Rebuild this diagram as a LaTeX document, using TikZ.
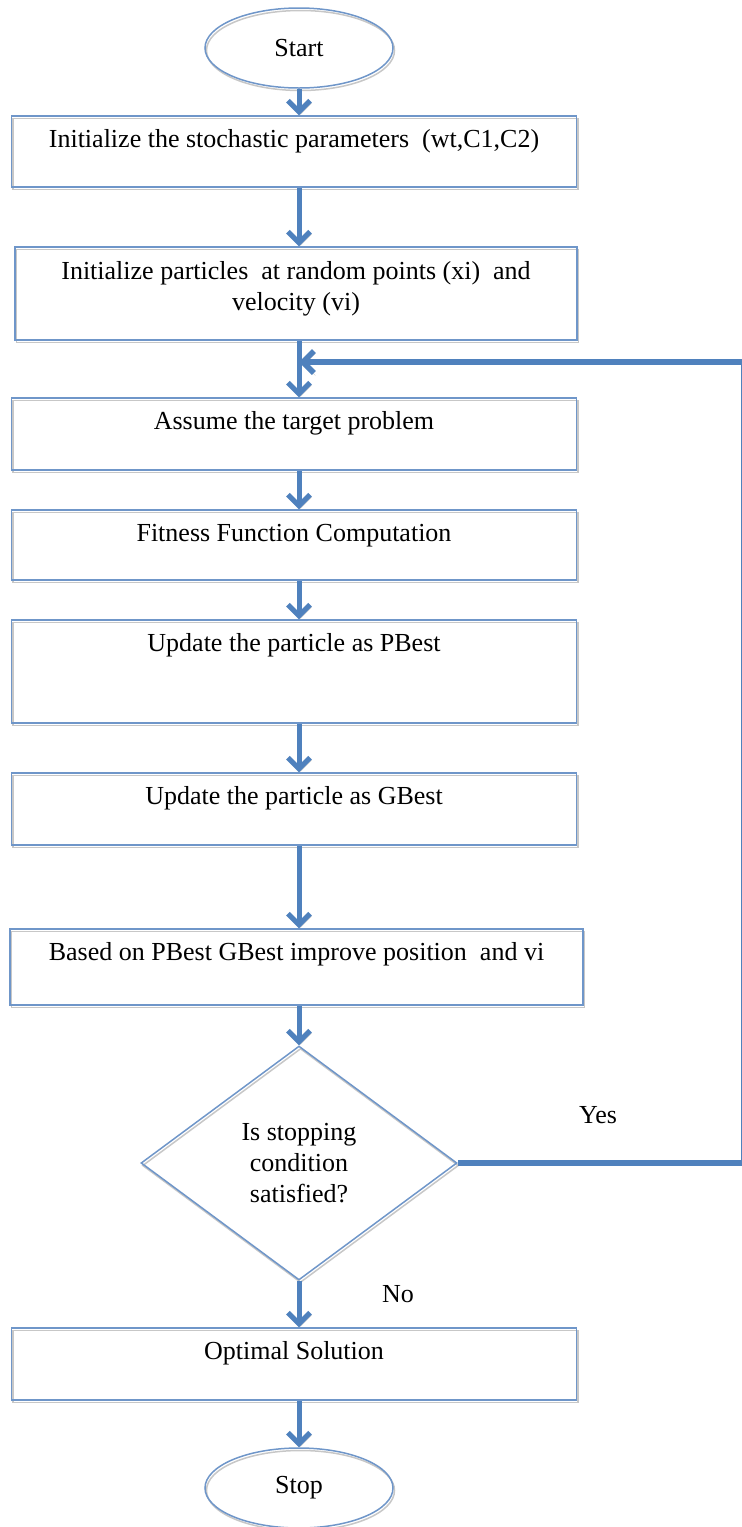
\documentclass[tikz,border=0pt]{standalone}
\usepackage{fontspec}
\setmainfont{Liberation Serif}
\usetikzlibrary{arrows.meta,shapes.geometric,positioning}

\definecolor{wordblue}{HTML}{4F81BD}
\definecolor{edgeblue}{HTML}{6F96C9}

\begin{document}
\begin{tikzpicture}[x=1pt,y=-1pt,font=\fontsize{26}{31}\selectfont,
    softshadow/.style={preaction={draw=black!22,transform canvas={shift={(1.5pt,-2.5pt)}}}},
    box/.style={rectangle,draw=edgeblue,line width=1.5pt,softshadow,minimum width=565pt,inner sep=0pt},
    txt/.style={anchor=base,yshift=-32pt,inner sep=0pt,align=center},
    term/.style={ellipse,draw=edgeblue,line width=1.5pt,softshadow,minimum width=188pt,minimum height=80pt,inner sep=0pt},
    flow/.style={draw=wordblue,line width=5pt,softshadow,-{Straight Barb[length=11pt,width=22pt]}}]
  \useasboundingbox (0,0) rectangle (742,1527);
  \coordinate (spine) at (299,0);
  \coordinate (rim) at (744,0);
  \coordinate (back) at (299,362);

  \node[term] (start) at (299,48) {Start};
  \node[box,minimum height=71pt] (init) at (294,151.5) {};
  \node[txt] (init-t) at (init.north) {Initialize the stochastic parameters\ \ (wt,C1,C2)};
  \node[box,minimum width=562pt,minimum height=93pt] (parts) at (296,293.5) {};
  \node[txt,yshift=-32pt] (parts-t) at (parts.north) {Initialize particles\ \ at random points (xi)\ \ and\\velocity (vi)};
  \node[box,minimum height=72pt] (target) at (294,434) {};
  \node[txt] (target-t) at (target.north) {Assume the target problem};
  \node[box,minimum height=70pt] (fitness) at (294,545) {};
  \node[txt] (fitness-t) at (fitness.north) {Fitness Function Computation};
  \node[box,minimum height=103pt] (pbest) at (294,671.5) {};
  \node[txt] (pbest-t) at (pbest.north) {Update the particle as PBest};
  \node[box,minimum height=72pt] (gbest) at (294,809) {};
  \node[txt] (gbest-t) at (gbest.north) {Update the particle as GBest};
  \node[box,minimum width=573pt,minimum height=76pt] (improve) at (296.5,967) {};
  \node[txt] (improve-t) at (improve.north) {Based on PBest GBest improve position\ \ and vi};
  \node[diamond,draw=edgeblue,line width=1.5pt,softshadow,minimum width=316pt,minimum height=234pt,
        inner sep=0pt,align=center] (cond) at (299,1163) {Is stopping\\condition\\satisfied?};
  \node[box,minimum height=72pt] (optimal) at (294,1364) {};
  \node[txt] (optimal-t) at (optimal.north) {Optimal Solution};
  \node[term] (stop) at (299,1488) {Stop};

  \node (yes) at (598,1115) {Yes};
  \node (no) at (398,1294) {No};

  % main flow
  \draw[flow] (start.south) -- (init.north -| spine);
  \draw[flow] (init.south -| spine) -- (parts.north -| spine);
  \draw[flow] (parts.south -| spine) -- (target.north -| spine);
  \draw[flow] (target.south -| spine) -- (fitness.north -| spine);
  \draw[flow] (fitness.south -| spine) -- (pbest.north -| spine);
  \draw[flow] (pbest.south -| spine) -- (gbest.north -| spine);
  \draw[flow] (gbest.south -| spine) -- (improve.north -| spine);
  \draw[flow] (improve.south -| spine) -- (cond.north);
  \draw[flow] (cond.south) -- (optimal.north -| spine);
  \draw[flow] (optimal.south -| spine) -- (stop.north);
  % back to the loop
  \draw[flow,line width=5.5pt] (cond.east) -- (cond.east -| rim) -- (rim |- back) -- (back);
\end{tikzpicture}
\end{document}
